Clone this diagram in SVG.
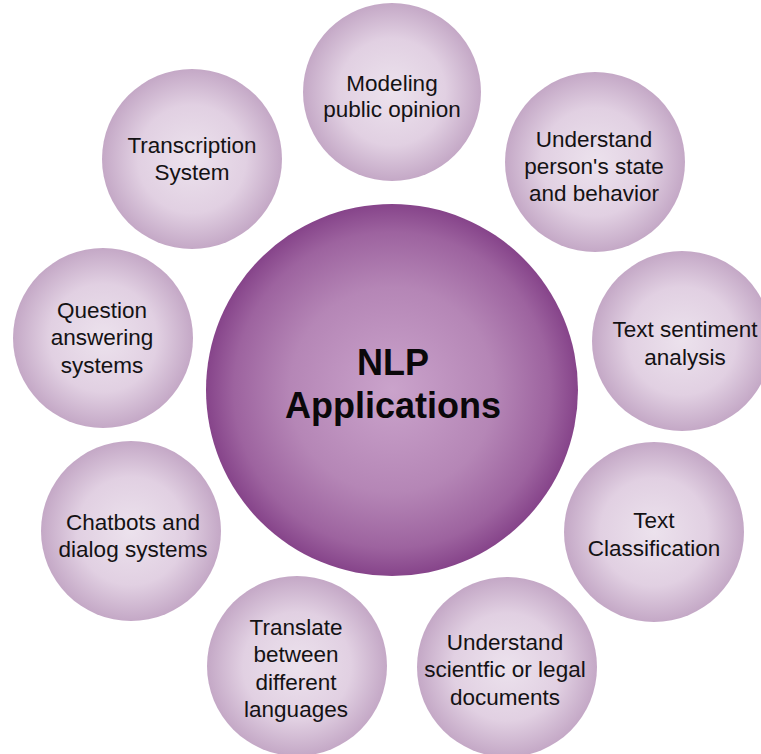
<svg xmlns="http://www.w3.org/2000/svg" width="761" height="754" viewBox="0 0 761 754">
<defs>
<radialGradient id="gMain" cx="50%" cy="50%" r="50%">
<stop offset="0" stop-color="#caa3cb"/>
<stop offset="0.55" stop-color="#b586b6"/>
<stop offset="0.85" stop-color="#9d639f"/>
<stop offset="1" stop-color="#86448a"/>
</radialGradient>
<radialGradient id="gSmall" cx="50%" cy="50%" r="50%">
<stop offset="0" stop-color="#ece2ed"/>
<stop offset="0.6" stop-color="#e1d0e2"/>
<stop offset="1" stop-color="#c4a8c6"/>
</radialGradient>
<style>
.s{fill:url(#gSmall);}
.m{fill:url(#gMain);}
.t{font-family:"Liberation Sans",Arial,sans-serif;font-size:22.5px;fill:#141214;text-anchor:middle;}
.tm{font-family:"Liberation Sans",Arial,sans-serif;font-size:36px;font-weight:bold;fill:#0a080a;text-anchor:middle;}
</style>
</defs>
<rect width="761" height="754" fill="#ffffff"/>
<g id="connectors"/>
<g id="center">
<circle class="m" cx="392" cy="390" r="186"/>
<text class="tm" x="393" y="375">NLP</text>
<text class="tm" x="393" y="418">Applications</text>
</g>
<g id="modeling">
<circle class="s" cx="392" cy="92" r="89"/>
<text class="t" x="392" y="91">Modeling</text>
<text class="t" x="392" y="117">public opinion</text>
</g>
<g id="understand-person">
<circle class="s" cx="595" cy="162" r="90"/>
<text class="t" x="594" y="147">Understand</text>
<text class="t" x="594" y="174">person's state</text>
<text class="t" x="594" y="201">and behavior</text>
</g>
<g id="sentiment">
<circle class="s" cx="682" cy="341" r="90"/>
<text class="t" x="685" y="337">Text sentiment</text>
<text class="t" x="685" y="365">analysis</text>
</g>
<g id="classification">
<circle class="s" cx="654" cy="532" r="90"/>
<text class="t" x="654" y="528">Text</text>
<text class="t" x="654" y="556">Classification</text>
</g>
<g id="scientific">
<circle class="s" cx="507" cy="667" r="90"/>
<text class="t" x="505" y="650">Understand</text>
<text class="t" x="505" y="677">scientfic or legal</text>
<text class="t" x="505" y="705">documents</text>
</g>
<g id="translate">
<circle class="s" cx="297" cy="666" r="90"/>
<text class="t" x="296" y="635">Translate</text>
<text class="t" x="296" y="662">between</text>
<text class="t" x="296" y="690">different</text>
<text class="t" x="296" y="717">languages</text>
</g>
<g id="chatbots">
<circle class="s" cx="131" cy="531" r="90"/>
<text class="t" x="133" y="530">Chatbots and</text>
<text class="t" x="133" y="557">dialog systems</text>
</g>
<g id="question">
<circle class="s" cx="103" cy="338" r="90"/>
<text class="t" x="102" y="318">Question</text>
<text class="t" x="102" y="345">answering</text>
<text class="t" x="102" y="373">systems</text>
</g>
<g id="transcription">
<circle class="s" cx="192" cy="159" r="90"/>
<text class="t" x="192" y="153">Transcription</text>
<text class="t" x="192" y="180">System</text>
</g>
</svg>
